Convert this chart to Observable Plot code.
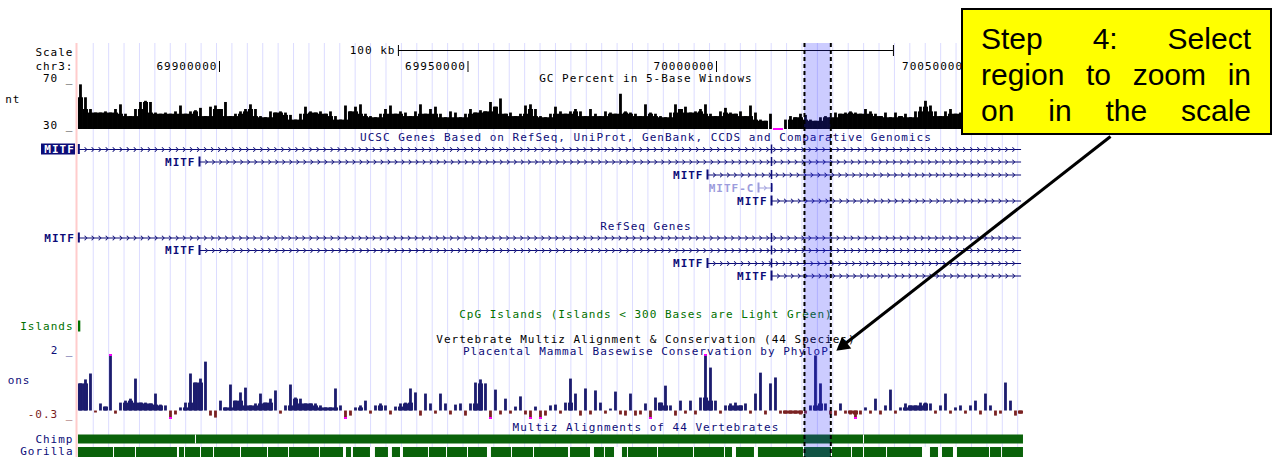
<!DOCTYPE html>
<html>
<head>
<meta charset="utf-8">
<script src="https://cdn.jsdelivr.net/npm/d3@7"></script>
<script src="https://cdn.jsdelivr.net/npm/@observablehq/plot@0.6"></script>
<style>
html, body { margin: 0; padding: 0; background: #fff; }
#wrap { position: relative; width: 1274px; height: 457px; overflow: hidden; background: #fff; }
#chart { position: absolute; left: 0; top: 0; }
#callout { position: absolute; left: 961px; top: 8px; width: 307px; height: 123px; background: #ffff00; border: 2px solid #000; box-sizing: content-box; overflow: hidden; font-family: "Liberation Sans", Arial, sans-serif; font-size: 30px; line-height: 36px; color: #000; }
#callout .ln { margin: 0 19px 0 18px; text-align: justify; text-align-last: justify; }
#callout .ln:first-child { margin-top: 11px; }
</style>
</head>
<body>
<div id="wrap"><div id="chart"></div><div id="callout"></div></div>
<script>
// ---------------- data ----------------
// view window (kb on chr3) spanned by the 1274px picture
const viewStart = 69855.94, viewEnd = 70112.27;
const rulerTicks = [69900, 69950, 70000, 70050];       // kb
const scaleBar = [69936.0, 70035.6];                   // "100 kb" bar
const scaleBarLabel = "100 kb";
const highlight = [70017.7, 70023.0];                  // selected region

// GC percent, 5px windows starting at binStart, width binKb (kb)
const binStart = 69871.63, binKb = 1.006;
const gcPercent = [
  68,57,47,44,44,45,44,47,51,43, 41,47,53,54,53,44,43,44,43,45,
  50,43,45,46,48,41,49,50,47,53, 41,43,45,47,51,47,41,40,45,44,
  45,44,42,38,43,49,45,44,45,43, 45,41,38,50,45,49,51,43,41,40,
  43,47,50,43,45,44,41,45,51,43, 47,49,43,40,45,44,40,43,47,44,
  46,45,53,49,56,43,44,41,43,50, 51,47,41,40,
  43,49,45,43,45,47,45,41,47,43, 41,45,44,43,60,45,44,43,41,51,
  44,43,41,40,44,51,47,49,44,45, 47,51,43,41,45,48,44,43,45,41,
  50,44,38,37,43,29,29,38,41,40, 43,42,38,37,40,41,40,44,43,44,
  45,44,43,47,45,43,41,44,40,44, 41,43,40,45,49,54,50,45,41,45,
  47,43, 44,46,42,45,48,43,41,46,50,44,42,47,43
];
const gcDomain = [30, 70];

// Placental mammal PhyloP conservation, same windows
const phyloP = [
  0.96,1.10,1.31,-0.07,0.25,0.14,2.40,-0.11,0.28,0.35,
  0.42,1.13,0.28,0.28,0.25,0.60,0.21,0.18,-0.45,-0.14,
  0.11,0.28,1.31,0.99,1.13,1.73,-0.18,-0.25,0.35,0.11,
  0.92,0.35,0.64,0.81,0.18,0.25,0.60,0.28,0.42,0.71,
  -0.11,0.18,0.92,0.46,0.42,0.25,0.25,0.25,0.18,0.11,
  0.11,0.78,0.18,-0.45,-0.18,0.11,0.18,0.35,-0.11,0.18,
  0.25,0.18,-0.14,0.14,0.25,0.28,0.78,0.64,-0.18,0.60,
  0.25,-0.11,0.60,0.25,-0.14,0.21,0.25,-0.18,0.25,0.99,
  1.10,0.96,-0.45,0.74,-0.14,0.42,-0.11,0.14,0.50,-0.14,
  -0.45,0.14,-0.45,-0.18,
  0.18,0.21,-0.11,0.28,1.13,0.60,-0.18,0.78,-0.14,0.71,
  0.28,-0.11,0.07,0.67,-0.14,-0.18,0.60,-0.18,-0.14,0.25,
  -0.45,0.46,0.28,0.88,0.18,-0.18,0.35,-0.11,0.35,-0.14,
  0.46,2.30,1.52,0.35,-0.11,0.18,0.25,0.28,0.18,0.25,
  -0.11,0.60,1.34,-0.14,0.96,1.17,-0.11,-0.11,-0.11,-0.11,
  -0.14,-0.11,0.18,1.95,0.96,0.25,-0.14,-0.18,0.25,-0.11,
  -0.14,-0.45,-0.14,0.11,-0.11,0.42,-0.14,0.18,0.74,-0.11,
  0.11,0.25,0.18,0.18,0.28,0.28,0.25,-0.11,0.18,0.60,
  -0.11,0.11,0.18,-0.11,0.18,0.35,-0.14,0.60,0.18,-0.18,
  -0.11,0.99,0.35,-0.18,-0.11
];
const consDomain = [-0.3, 2];

// gene models (kb)
const ucscNames  = ["MITF", "MITF", "MITF", "MITF-C", "MITF"];
const ucscStarts = [69871.7, 69895.98, 69998.19, 70008.45, 70011.07];
const ucscEnds   = [70061.2, 70061.2, 70061.2, 70011.2, 70061.2];
const refNames   = ["MITF", "MITF", "MITF", "MITF"];
const refStarts  = [69871.7, 69895.98, 69998.19, 70011.07];
const refEnds    = [70061.2, 70061.2, 70061.2, 70061.2];
const sharedExon = 70011.07;
const cpgIslands = [[69871.63, 69872.1]];

// pairwise alignment gaps (kb start, kb width)
const chimpGaps = [[69895.17, 0.2], [70029.58, 0.2]];
const gorillaGaps = [
  [69878.68,0.2],[69883.10,0.2],[69891.55,0.4],[69892.96,0.2],[69896.18,0.2],[69898.80,0.2],
  [69904.23,0.2],[69909.66,0.2],[69913.89,0.2],[69920.12,0.2],[69924.95,0.6],[69926.56,0.4],
  [69930.38,1.0],[69934.00,0.8],[69936.42,0.6],[69942.05,0.2],[69945.68,0.2],[69949.90,0.2],
  [69953.92,0.8],[69958.75,0.2],[69963.18,0.2],[69970.22,0.4],[69974.65,0.8],[69977.46,0.2],
  [69979.48,1.6],[69982.09,0.2],[69988.13,0.2],[69995.37,0.2],[70001.61,0.2],[70003.22,0.8],
  [70007.64,0.8],[70017.50,0.2],[70023.14,0.2],[70027.16,0.2],[70029.58,0.2],[70034.21,0.2],
  [70041.45,1.6],[70044.67,0.8],[70047.68,0.8],[70054.93,0.2],[70057.35,0.2]
];

const titles = [
  {text: "GC Percent in 5-Base Windows", row: "gcTitle", color: "#000000"},
  {text: "UCSC Genes Based on RefSeq, UniProt, GenBank, CCDS and Comparative Genomics", row: "ucscTitle", color: "#0c0c78"},
  {text: "RefSeq Genes", row: "refTitle", color: "#0c0c78"},
  {text: "CpG Islands (Islands < 300 Bases are Light Green)", row: "cpgTitle", color: "#007000"},
  {text: "Vertebrate Multiz Alignment & Conservation (44 Species)", row: "consTitle1", color: "#000000"},
  {text: "Placental Mammal Basewise Conservation by PhyloP", row: "consTitle2", color: "#0c0c78"},
  {text: "Multiz Alignments of 44 Vertebrates", row: "multizTitle", color: "#0c0c78"}
];
const sideLabels = [
  {text: "Scale", row: "scaleLbl", color: "#000000", right: 73},
  {text: "chr3:", row: "posY", color: "#000000", right: 73},
  {text: "70 _", row: "gcTopLbl", color: "#000000", right: 73},
  {text: "nt", row: "gcMidLbl", color: "#000000", right: 20},
  {text: "30 _", row: "gcBotLbl", color: "#000000", right: 73},
  {text: "Islands", row: "cpgLbl", color: "#007000", right: 73},
  {text: "2 _", row: "consTopLbl", color: "#0c0c78", right: 73},
  {text: "ons", row: "consMidLbl", color: "#0c0c78", right: 30},
  {text: "-0.3 _", row: "consBotLbl", color: "#7a1c1c", right: 73},
  {text: "Chimp", row: "chimpLbl", color: "#0c0c78", right: 73},
  {text: "Gorilla", row: "gorillaLbl", color: "#0c0c78", right: 73}
];
const calloutLines = ["Step 4: Select", "region to zoom in", "on in the scale"];

// ---------------- layout (px rows) ----------------
const W = 1274, H = 457;
const L = {
  top: 43, bottom: 457,
  scaleLbl: 52, scaleBarY: 50, posY: 66,
  gcTitle: 78, gcTop: 82, gcBase: 129, gcTopLbl: 78, gcMidLbl: 99, gcBotLbl: 125,
  ucscTitle: 137, ucscRows: [149, 161.5, 174.5, 187.5, 200.5],
  refTitle: 226, refRows: [237.5, 250, 263, 275.5],
  cpgTitle: 314, cpgY: [320.5, 331.5], cpgLbl: 326,
  consTitle1: 339, consTitle2: 350.5, consTop: 354, consBot: 419,
  consTopLbl: 350, consMidLbl: 380, consBotLbl: 414,
  multizTitle: 427, chimpY: [434.5, 443.5], chimpLbl: 438.5, gorillaY: [447, 458], gorillaLbl: 451
};
const px2kb = p => viewStart + p * (viewEnd - viewStart) / W;
const gcY = d3.scaleLinear(gcDomain, [L.gcBase, L.gcTop]).clamp(true);
const consY = d3.scaleLinear(consDomain, [L.consBot, L.consTop]).clamp(true);
const titleCenter = (scaleBar[0] + scaleBar[1]) / 2;

const navy = "#0c0c78", lightGene = "#9c9cdc";
const consPos = "#1c1c6e", consNeg = "#7a2222", clipColor = "#ff00ff";
const alignGreen = "#0a620a";

// ---------------- derived tables ----------------
// each window: a thin spike at its value plus a full-width floor at the lowest neighbouring value
function windows(values, base) {
  return values.map((v, i) => {
    const nb = [values[i - 1], v, values[i + 1]].filter(u => u !== undefined);
    const same = nb.every(u => Math.sign(u - base) === Math.sign(v - base));
    const floor = same ? (v >= base ? d3.min(nb) : d3.max(nb)) : base;
    return {x: binStart + i * binKb, v, floor};
  });
}
const gcBins = windows(gcPercent, gcDomain[0]);
const consBins = windows(phyloP, 0);

function makeGenes(names, starts, ends, rows, track) {
  return names.map((n, i) => ({name: n, start: starts[i], end: ends[i], y: rows[i],
    key: track + i, color: n === "MITF-C" ? lightGene : navy}));
}
const genes = [...makeGenes(ucscNames, ucscStarts, ucscEnds, L.ucscRows, "u"),
               ...makeGenes(refNames, refStarts, refEnds, L.refRows, "r")];
const chevKb = 1.41;
const genePts = genes.flatMap(g => {
  const n = Math.max(2, Math.round((g.end - g.start) / chevKb));
  return d3.range(n + 1).map(i => ({key: g.key, color: g.color, x: g.start + (g.end - g.start) * i / n, y: g.y}));
});
const exonRows = genes.filter(g => g.start < sharedExon - 0.5 && g.end > sharedExon);
const guideLines = d3.range(69874.6, 70061.5, 3.1);

const arrowTail = {x: px2kb(1110), y: 136};
const arrowHead = {x: px2kb(842.7), y: 344.8};

const mono = "DejaVu Sans Mono";
const spikeL = 0.22, spikeR = 0.78;

const chart = Plot.plot({
  width: W, height: H, margin: 0,
  x: {domain: [viewStart, viewEnd], axis: null},
  y: {domain: [0, H], range: [0, H], axis: null},
  color: {type: "identity"},
  style: "background: transparent; overflow: visible; letter-spacing: 1px; font-family: 'DejaVu Sans Mono', monospace; font-size: 11px;",
  marks: [
    // guidelines & left edge
    Plot.ruleX(guideLines, {y1: L.top, y2: L.bottom, stroke: "#dcdcff", strokeWidth: 1}),
    Plot.ruleX([px2kb(76)], {y1: L.top, y2: L.bottom, stroke: "#ffcccc", strokeWidth: 2}),

    // ruler
    Plot.ruleY([L.scaleBarY], {x1: scaleBar[0], x2: scaleBar[1], stroke: "#000", strokeWidth: 1}),
    Plot.ruleX(scaleBar, {y1: L.scaleBarY - 5, y2: L.scaleBarY + 6, stroke: "#000", strokeWidth: 1}),
    Plot.text([scaleBarLabel], {x: scaleBar[0], y: L.scaleBarY, text: d => d, textAnchor: "end", dx: -3, fill: "#000", fontFamily: mono, fontSize: 11}),
    Plot.ruleX(rulerTicks, {y1: L.posY - 5, y2: L.posY + 6, stroke: "#000", strokeWidth: 1}),
    Plot.text(rulerTicks, {x: d => d, y: L.posY, text: d => d3.format("d")(Math.round(d * 1000)), textAnchor: "end", dx: -2, fill: "#000", fontFamily: mono, fontSize: 11}),

    // side labels
    Plot.text(sideLabels, {x: d => px2kb(d.right), y: d => L[d.row], text: "text", fill: "color", textAnchor: "end", fontFamily: mono, fontSize: 11}),

    // GC percent
    Plot.rect(gcBins, {x1: "x", x2: d => d.x + binKb, y1: L.gcBase, y2: d => gcY(d.floor), fill: "#000"}),
    Plot.rect(gcBins.filter(d => d.v >= gcDomain[0]), {x1: d => d.x + binKb * spikeL, x2: d => d.x + binKb * spikeR, y1: L.gcBase, y2: d => gcY(d.v), fill: "#000"}),
    Plot.rect(gcBins.filter(d => d.v < gcDomain[0]), {x1: "x", x2: d => d.x + binKb, y1: L.gcBase - 1, y2: L.gcBase + 1, fill: clipColor}),

    // track titles
    Plot.text(titles, {x: titleCenter, y: d => L[d.row], text: "text", fill: "color", fontFamily: mono, fontSize: 11}),

    // genes
    Plot.line(genePts.filter(d => d.color === navy), {x: "x", y: "y", z: "key", stroke: navy, strokeWidth: 1, markerMid: "arrow"}),
    Plot.line(genePts.filter(d => d.color === lightGene), {x: "x", y: "y", z: "key", stroke: lightGene, strokeWidth: 1, markerMid: "arrow"}),
    Plot.ruleX(genes, {x: "start", y1: d => d.y - 5, y2: d => d.y + 5, stroke: "color", strokeWidth: 2}),
    Plot.ruleX(genes.filter(g => g.name === "MITF-C"), {x: "end", y1: d => d.y - 4, y2: d => d.y + 4, stroke: "color", strokeWidth: 1.5}),
    Plot.ruleX(exonRows, {x: sharedExon, y1: d => d.y - 4.5, y2: d => d.y + 4.5, stroke: navy, strokeWidth: 1.5}),
    Plot.rect(genes.slice(0, 1), {x1: px2kb(41), x2: px2kb(75), y1: d => d.y - 5.5, y2: d => d.y + 5.5, fill: navy}),
    Plot.text(genes, {x: "start", y: "y", text: "name", fill: (d, i) => i === 0 ? "#ffffff" : d.color, textAnchor: "end", dx: -4, fontFamily: mono, fontSize: 11, fontWeight: "bold"}),

    // CpG islands
    Plot.rect(cpgIslands, {x1: d => d[0], x2: d => d[1], y1: L.cpgY[0], y2: L.cpgY[1], fill: "#007000"}),

    // conservation
    Plot.rect(consBins, {x1: "x", x2: d => d.x + binKb, y1: consY(0), y2: d => consY(d.floor), fill: d => d.v >= 0 ? consPos : consNeg}),
    Plot.rect(consBins, {x1: d => d.x + binKb * spikeL, x2: d => d.x + binKb * spikeR, y1: consY(0), y2: d => consY(d.v), fill: d => d.v >= 0 ? consPos : consNeg}),
    Plot.rect(consBins.filter(d => d.v > consDomain[1]), {x1: d => d.x + binKb * spikeL, x2: d => d.x + binKb * spikeR, y1: consY(consDomain[1]), y2: consY(consDomain[1]) + 2, fill: clipColor}),
    Plot.rect(consBins.filter(d => d.v < consDomain[0]), {x1: d => d.x + binKb * spikeL, x2: d => d.x + binKb * spikeR, y1: consY(consDomain[0]) - 2, y2: consY(consDomain[0]), fill: clipColor}),

    // chimp / gorilla alignments
    Plot.rect([viewStart], {x1: binStart, x2: binStart + gcPercent.length * binKb, y1: L.chimpY[0], y2: L.chimpY[1], fill: alignGreen}),
    Plot.rect(chimpGaps, {x1: d => d[0], x2: d => d[0] + d[1], y1: L.chimpY[0], y2: L.chimpY[1], fill: "#ffffff"}),
    Plot.rect([viewStart], {x1: binStart, x2: binStart + gcPercent.length * binKb, y1: L.gorillaY[0], y2: L.gorillaY[1], fill: alignGreen}),
    Plot.rect(gorillaGaps, {x1: d => d[0], x2: d => d[0] + d[1], y1: L.gorillaY[0], y2: L.gorillaY[1], fill: "#ffffff"}),

    // highlighted region
    Plot.rect([highlight], {x1: d => d[0], x2: d => d[1], y1: L.top, y2: L.bottom, fill: "#2a2aff", fillOpacity: 0.24}),
    Plot.ruleX(highlight, {y1: L.top, y2: L.bottom, stroke: "#000", strokeWidth: 2, strokeDasharray: "4,3"}),

    // callout arrow
    Plot.link([{x1: arrowTail.x, y1: arrowTail.y, x2: arrowHead.x, y2: arrowHead.y}], {x1: "x1", y1: "y1", x2: "x2", y2: "y2", stroke: "#000", strokeWidth: 3}),
    Plot.dot([arrowHead], {x: "x", y: "y", symbol: "triangle", r: 5.6, rotate: 232, fill: "#000", stroke: "none"})
  ]
});
document.getElementById("chart").appendChild(chart);

const box = document.getElementById("callout");
calloutLines.forEach(t => { const d = document.createElement("div"); d.className = "ln"; d.textContent = t; box.appendChild(d); });
</script>
</body>
</html>
